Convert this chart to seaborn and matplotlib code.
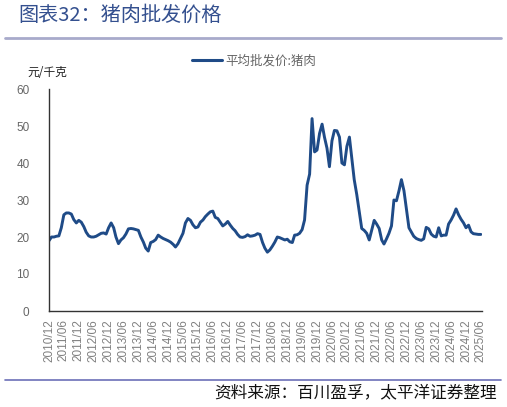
import numpy as np
import pandas as pd
import seaborn as sns
import matplotlib.pyplot as plt
from matplotlib.lines import Line2D

# monthly wholesale pork price, 2010/12 .. 2025/06 (yuan/kg)
start_month = "2010-12-01"
price = [
    19.0, 20.0, 20.0, 20.2, 20.3, 22.5, 26.0, 26.5, 26.5, 26.2, 24.7, 23.8,   # 2010/12-2011/11
    24.5, 24.0, 22.8, 21.3, 20.3, 20.0, 20.0, 20.2, 20.6, 21.0, 21.1, 20.8,   # 2011/12-2012/11
    22.5, 23.8, 22.5, 20.0, 18.2, 19.2, 19.8, 20.8, 22.2, 22.3, 22.2, 22.0,   # 2012/12-2013/11
    21.8, 20.0, 18.6, 17.0, 16.2, 18.5, 18.8, 19.3, 20.5, 20.0, 19.6, 19.3,   # 2013/12-2014/11
    19.0, 18.6, 18.0, 17.3, 18.2, 19.6, 21.0, 23.8, 25.0, 24.5, 23.3, 22.5,   # 2014/12-2015/11
    22.7, 24.0, 24.6, 25.5, 26.2, 26.8, 27.0, 25.3, 25.0, 24.0, 23.0, 23.5,   # 2015/12-2016/11
    24.2, 23.2, 22.3, 21.7, 20.7, 20.0, 19.9, 20.1, 20.6, 20.2, 20.3, 20.5,   # 2016/12-2017/11
    20.9, 20.7, 18.5, 17.0, 15.9, 16.5, 17.5, 18.6, 20.0, 19.8, 19.5, 19.2,   # 2017/12-2018/11
    19.4, 18.7, 18.5, 20.5, 20.6, 21.0, 22.0, 24.6, 34.0, 37.0, 52.0, 43.0,   # 2018/12-2019/11
    43.5, 48.0, 50.5, 47.0, 44.0, 39.0, 46.0, 48.8, 48.7, 47.0, 40.0, 39.5,   # 2019/12-2020/11
    44.5, 47.0, 41.0, 35.5, 31.5, 27.0, 22.3, 21.8, 21.0, 19.2, 21.8, 24.5,   # 2020/12-2021/11
    23.5, 22.3, 19.2, 18.1, 19.5, 21.0, 23.0, 30.0, 29.8, 32.5, 35.5, 32.5,   # 2021/12-2022/11
    27.5, 22.5, 21.3, 20.2, 19.6, 19.3, 19.1, 19.5, 22.6, 22.2, 20.8, 20.2,   # 2022/12-2023/11
    20.0, 22.5, 20.3, 20.5, 20.5, 23.5, 24.6, 25.9, 27.6, 26.0, 24.8, 23.8,   # 2023/12-2024/11
    22.5, 23.2, 21.4, 20.9, 20.8, 20.7, 20.7,                                 # 2024/12-2025/06
]
series_name = "平均批发价:猪肉"
y_ticks = [0, 10, 20, 30, 40, 50, 60]
title = "图表32：猪肉批发价格"
unit = "元/千克"
source = "资料来源：百川盈孚，太平洋证券整理"

dates = pd.date_range(start_month, periods=len(price), freq="MS")
df = pd.DataFrame({"date": dates, "price": price})
tick_dates = pd.date_range("2010-12-01", "2025-06-01", freq="6MS")
tick_labels = [d.strftime("%Y/%m") for d in tick_dates]

sns.set_style("white")
plt.rcParams["font.family"] = ["Liberation Sans", "Noto Sans CJK SC", "DejaVu Sans"]
cjk = ["Noto Sans CJK SC", "DejaVu Sans"]

fig = plt.figure(figsize=(5.07, 4.07), dpi=100)
ax = fig.add_axes([49 / 507, 1 - 311 / 407, 433 / 507, 222 / 407])

line_color = "#1f4b87"
sns.lineplot(data=df, x="date", y="price", ax=ax, color=line_color, linewidth=2.1, label=series_name)

ax.set_xlim(pd.Timestamp("2010-12-01"), pd.Timestamp("2025-06-15"))
ax.set_ylim(0, 60)
ax.set_yticks(y_ticks)
ax.set_xticks(tick_dates)
ax.set_xticklabels(tick_labels, rotation=90, fontsize=8.5, color="#808080")
ax.tick_params(axis="y", direction="in", length=3, labelsize=8.5, labelcolor="#666666", pad=14, color="#333333")
ax.tick_params(axis="x", direction="out", length=3, pad=3, color="#333333")
ax.set_xlabel("")
ax.set_ylabel("")
for s in ["top", "right"]:
    ax.spines[s].set_visible(False)
for s in ["left", "bottom"]:
    ax.spines[s].set_color("#333333")
    ax.spines[s].set_linewidth(1.0)

ax.get_legend().remove()
fig.legend(handles=[Line2D([0], [0], color=line_color, linewidth=2.2)], labels=[series_name],
           loc="center", bbox_to_anchor=(254 / 507, 1 - 61 / 407), frameon=False,
           handlelength=2.4, handletextpad=0.3, prop={"family": cjk, "size": 9},
           labelcolor="#666666")

fig.text(18 / 507, 1 - 15 / 407, title, family=cjk, fontsize=14.5, color="#34508f",
         va="center", ha="left", fontweight="light")
fig.text(27 / 507, 1 - 73 / 407, unit, family=cjk, fontsize=8.5, color="#222222", va="center", ha="left")
fig.text(497 / 507, 1 - 393 / 407, source, family=cjk, fontsize=12, color="#111111",
         va="center", ha="right", style="italic")

fig.add_artist(Line2D([5 / 507, 501 / 507], [1 - 38 / 407] * 2, color="#a8aacb", linewidth=2))
fig.add_artist(Line2D([5 / 507, 501 / 507], [1 - 380 / 407] * 2, color="#6c70b8", linewidth=1.2))

fig.savefig("out.png", dpi=100)
